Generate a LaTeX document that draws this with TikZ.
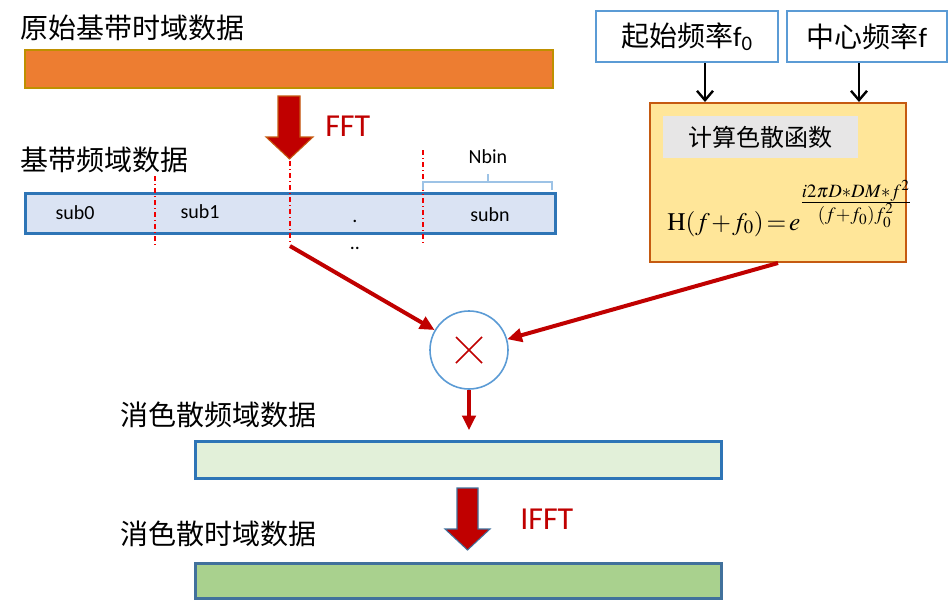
\documentclass[tikz,border=0pt]{standalone}
\usepackage{mathptmx}
\usepackage[no-math]{fontspec}
\setmainfont{Carlito}
\newfontfamily\cjk{Noto Sans CJK SC}
\usetikzlibrary{arrows.meta, positioning, calc}
\definecolor{darkred}{RGB}{192,0,0}
\definecolor{orangebar}{RGB}{237,125,49}
\definecolor{goldborder}{RGB}{191,144,0}
\definecolor{barblue}{RGB}{46,117,182}
\definecolor{boxblue}{RGB}{91,155,213}
\definecolor{paleblue}{RGB}{218,227,243}
\definecolor{palegreen}{RGB}{226,240,217}
\definecolor{midgreen}{RGB}{169,209,142}
\definecolor{paleyellow}{RGB}{255,230,153}
\definecolor{rustborder}{RGB}{197,90,17}
\definecolor{palegrey}{RGB}{231,230,230}
\definecolor{bracecol}{RGB}{157,195,230}
\definecolor{slateblue}{RGB}{65,113,156}
\definecolor{dashred}{RGB}{240,0,0}
\tikzset{
  cjklabel/.style={anchor=west, inner sep=0pt, font=\cjk\fontsize{21}{24}\selectfont},
  databar/.style={draw=barblue, line width=2.25pt, inner sep=0pt, minimum width=396pt},
  sublabel/.style={inner sep=0pt, font=\fontsize{15}{18}\selectfont},
  redflow/.style={-{Triangle[length=11pt,width=10pt]}, line width=3pt, darkred},
  blackflow/.style={-{Straight Barb[length=7pt,width=12pt]}, line width=1.8pt, black},
  dashmark/.style={dashred, line width=0.8pt, dash pattern=on 4pt off 2pt on 1pt off 2pt},
  freqbox/.style={draw=boxblue, line width=1.5pt, minimum height=38.25pt, inner sep=0pt, font=\fontsize{21}{24}\selectfont}
}

\begin{document}
\begin{tikzpicture}[x=0.75pt, y=-0.75pt]
    \useasboundingbox (0,0) rectangle (949,600);

    % raw time-domain data and FFT
    \node[cjklabel] (rawtitle) at (20,28) {原始基带时域数据};
    \node[draw=goldborder, fill=orangebar, line width=2pt, minimum width=396pt, minimum height=28.5pt, inner sep=0pt] (raw) at (289,69) {};
    \draw[fill=darkred, draw=rustborder, line width=0.8pt] (278,96) -- (300,96) -- (300,137) -- (313,137) -- (289.5,159) -- (266,137) -- (278,137) -- cycle;
    \node[anchor=west, inner sep=0pt, text=darkred, font=\fontsize{24}{28}\selectfont] (fftlabel) at (325,126) {FFT};

    % baseband frequency-domain data
    \node[cjklabel] (freqtitle) at (20,160) {基带频域数据};
    \node[databar, fill=paleblue, minimum width=397.5pt, minimum height=30pt] (freq) at (290,213) {};
    \node[sublabel] (sub0) at (75,213) {sub0};
    \node[sublabel] (sub1) at (200,212) {sub1};
    \node[sublabel, anchor=base] (dot1) at (355,222) {.};
    \node[sublabel, anchor=base] (dot2) at (355,249) {..};
    \node[sublabel] (subn) at (490,215) {subn};
    \draw[dashmark] (155,176) -- (155,245);
    \draw[dashmark] (290,161) -- (290,245);
    \draw[dashmark] (423,150) -- (423,245);
    \draw[bracecol, line width=0.8pt] (423,190) -- (423,182) -- (552,182) -- (552,190);
    \draw[bracecol, line width=0.8pt] (488,182) -- (488,174);
    \node[sublabel] (nbin) at (488,157) {Nbin};
    \coordinate (fftout) at (290,246);

    % dispersion function
    \node[freqbox, minimum width=136.5pt] (startf) at (687,36.5) {{\cjk 起始频率}f\textsubscript{0}};
    \node[freqbox, minimum width=120pt] (centerf) at (867,36.5) {{\cjk 中心频率}f};
    \node[draw=rustborder, fill=paleyellow, line width=1.5pt, minimum width=192pt, minimum height=119.25pt, inner sep=0pt] (hfbox) at (778,182.5) {};
    \node[fill=palegrey, minimum width=146.25pt, minimum height=31.5pt, inner sep=0pt, font=\cjk\fontsize{18}{22}\selectfont] (hftitle) at (760.5,137) {计算色散函数};
    \node[anchor=base west, inner sep=0pt, font=\fontsize{19}{22}\selectfont] (hfunc) at (667,230) {$\medmuskip=1mu\thickmuskip=2mu\mathrm{H}(f+f_0)=e^{\frac{\scriptstyle i2\pi D*DM*f^2}{\scriptstyle (f+f_0)f_0^2}}$};
    \draw[blackflow] ([xshift=13.5pt]startf.south) -- ([xshift=13.5pt]startf.south |- hfbox.north);
    \draw[blackflow] ([xshift=-6pt]centerf.south) -- ([xshift=-6pt]centerf.south |- hfbox.north);

    % multiply
    \node[circle, draw=boxblue, line width=1.2pt, fill=white, minimum size=58.5pt, inner sep=0pt] (mult) at (469,350) {};
    \draw[darkred, line width=1.2pt] ($(mult)+(-13,-13)$) -- ($(mult)+(13,13)$);
    \draw[darkred, line width=1.2pt] ($(mult)+(-13,13)$) -- ($(mult)+(13,-13)$);
    \draw[redflow] (fftout) -- (mult);
    \draw[redflow] (hfbox.south) -- (mult);

    % dedispersed data and IFFT
    \node[cjklabel] (dispfreqtitle) at (120,415) {消色散频域数据};
    \node[databar, fill=palegreen, minimum width=395pt, minimum height=27.75pt] (dispfreq) at (458.5,459.5) {};
    \draw[redflow, shorten >=7pt] (mult.south) -- (mult.south |- dispfreq.north);
    \draw[fill=darkred, draw=slateblue, line width=0.8pt] (457,488) -- (478,488) -- (478,529) -- (490,529) -- (467.5,550) -- (445,529) -- (457,529) -- cycle;
    \node[anchor=west, inner sep=0pt, text=darkred, font=\fontsize{24}{28}\selectfont] (ifftlabel) at (520,519) {IFFT};
    \node[cjklabel] (disptimetitle) at (120,534) {消色散时域数据};
    \node[databar, draw=slateblue, fill=midgreen, minimum width=395pt, minimum height=26.25pt] (disptime) at (458.5,580.5) {};
\end{tikzpicture}
\end{document}
